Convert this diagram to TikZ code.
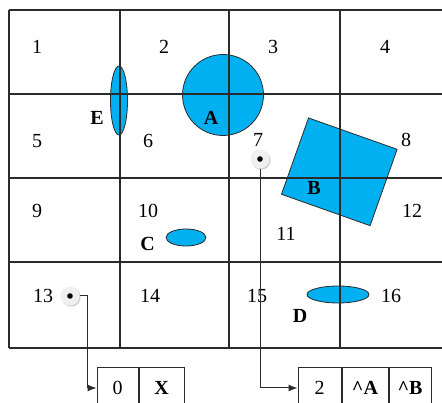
\documentclass[tikz,border=0pt]{standalone}
\usepackage{fontspec}
\setmainfont{Liberation Serif}
\usetikzlibrary{arrows.meta,shapes.geometric,shadows}
\definecolor{objblue}{HTML}{00B0F0}
\definecolor{gridc}{HTML}{2B2B2B}
\begin{document}
\begin{tikzpicture}[x=1pt,y=-1pt,
  gridline/.style={draw=gridc,line width=1.2pt},
  num/.style={inner sep=0pt,font=\fontsize{20}{24}\selectfont},
  lbl/.style={inner sep=0pt,font=\fontsize{20}{24}\selectfont\bfseries},
  obj/.style={fill=objblue,draw=gridc,line width=0.8pt,inner sep=0pt},
  cell/.style={draw=gridc,line width=1pt,minimum height=40pt,inner sep=0pt,font=\fontsize{20}{24}\selectfont},
  ptr/.style={draw=gridc,line width=1pt,-{Latex[length=9pt,width=7pt]}},
  dotc/.style={circle,fill=gray!12,minimum size=19pt,inner sep=0pt,
    drop shadow={opacity=0.35,shadow xshift=1.2pt,shadow yshift=-1.2pt}},
]
\useasboundingbox (0,0) rectangle (442,403);
\fill[white] (0,0) rectangle (442,403);
% objects
\node[obj,circle,minimum size=81pt] (A) at (223,95) {};
\node[obj,ellipse,minimum width=17pt,minimum height=69pt] (E) at (119,100.5) {};
\node[obj,ellipse,minimum width=40pt,minimum height=17pt] (C) at (186,237.5) {};
\node[obj,ellipse,minimum width=62pt,minimum height=17pt] (D) at (338,294.5) {};
\node[obj,rectangle,minimum width=94pt,minimum height=81pt,rotate=-19.5] (B) at (339.3,171.8) {};
% grid
\foreach \y in {10,94,178,262,348} \draw[gridline] (9,\y) -- (450,\y);
\foreach \x in {9,120,229,340} \draw[gridline] (\x,10) -- (\x,348);
% cell numbers
\node[num] (n1) at (37,47) {1};
\node[num] (n2) at (164,47) {2};
\node[num] (n3) at (273,47) {3};
\node[num] (n4) at (385,47) {4};
\node[num] (n5) at (37,141) {5};
\node[num] (n6) at (148,141) {6};
\node[num] (n7) at (258,140) {7};
\node[num] (n8) at (406,140) {8};
\node[num] (n9) at (37,211) {9};
\node[num] (n10) at (148,211) {10};
\node[num] (n11) at (286,234) {11};
\node[num] (n12) at (412,211) {12};
\node[num] (n13) at (43,296) {13};
\node[num] (n14) at (150,296) {14};
\node[num] (n15) at (257,296) {15};
\node[num] (n16) at (391,296) {16};
% object labels
\node[lbl] (la) at (211,117.5) {A};
\node[lbl] (lb) at (314,187.5) {B};
\node[lbl] (lc) at (147.5,244) {C};
\node[lbl] (ld) at (300,316) {D};
\node[lbl] (le) at (97,117.5) {E};
% list boxes
\node[cell,minimum width=41pt] (b0) at (117.5,388) {0};
\node[cell,minimum width=45pt,anchor=west,font=\fontsize{20}{24}\selectfont\bfseries] (bx) at (b0.east) {X};
\node[cell,minimum width=43pt] (c2) at (319.5,388) {2};
\node[cell,minimum width=46pt,anchor=west,font=\fontsize{20}{24}\selectfont\bfseries] (ca) at (c2.east) {\textasciicircum A};
\node[cell,minimum width=42pt,anchor=west,font=\fontsize{20}{24}\selectfont\bfseries] (cb) at (ca.east) {\textasciicircum B};
% pointers
\node[dotc] (p1) at (70,296) {};
\fill[black] (p1.center) circle (2.8);
\node[dotc] (p2) at (260,159) {};
\fill[black] (p2.center) circle (2.8);
\draw[ptr] (p1.east) -- ++(8,0) |- (b0.west);
\draw[ptr] (p2.south) |- (c2.west);
\end{tikzpicture}
\end{document}
